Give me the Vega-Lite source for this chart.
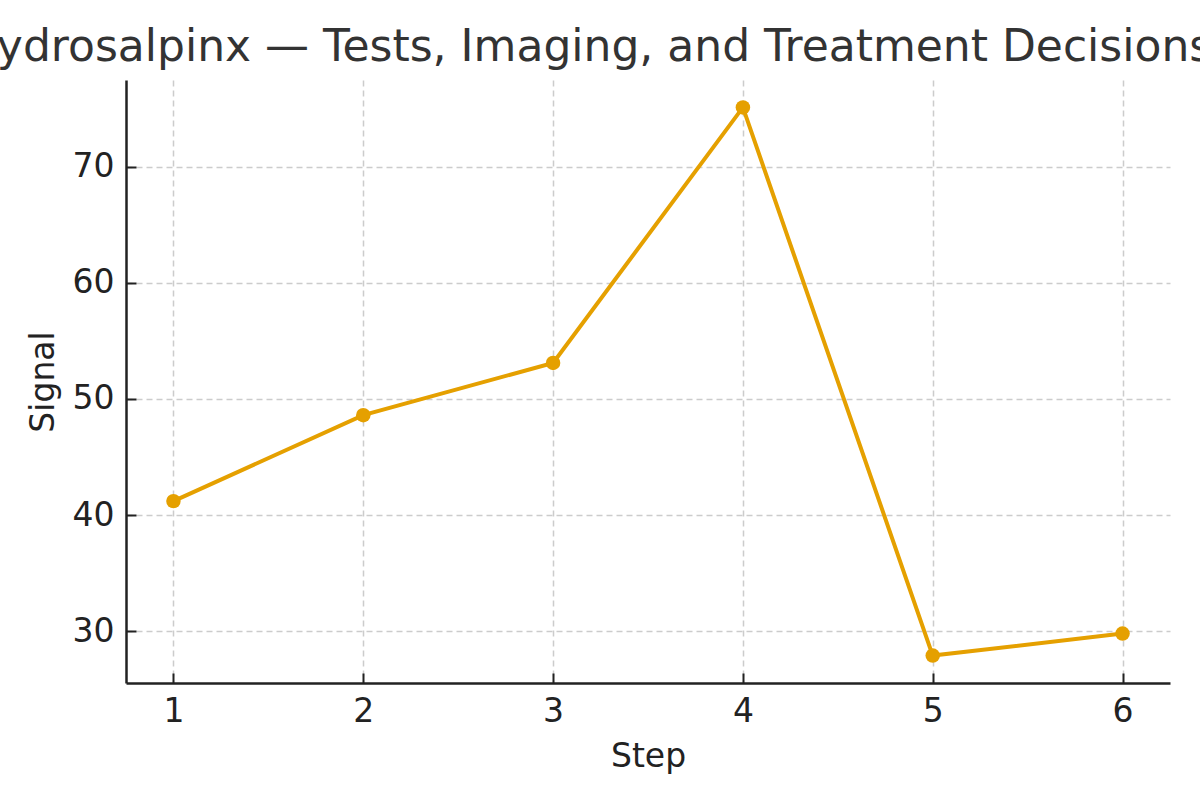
{
  "$schema": "https://vega.github.io/schema/vega-lite/v6.json",
  "width": 1044,
  "height": 603,
  "autosize": {"type": "none"},
  "padding": {"left": 126, "top": 80, "right": 30, "bottom": 117},
  "background": "white",
  "title": {
    "text": "Hydrosalpinx — Tests, Imaging, and Treatment Decisions",
    "font": "DejaVu Sans",
    "fontSize": 44,
    "fontWeight": "normal",
    "color": "#333333",
    "anchor": "middle",
    "baseline": "alphabetic",
    "offset": 15,
    "dx": -60,
    "dy": 40
  },
  "config": {
    "view": {"stroke": null},
    "font": "DejaVu Sans",
    "axis": {
      "domainColor": "#222222",
      "domainWidth": 2.5,
      "tickColor": "#222222",
      "tickWidth": 2,
      "tickSize": -10,
      "labelPadding": 22,
      "labelFont": "DejaVu Sans",
      "labelFontSize": 33,
      "labelColor": "#222222",
      "titleFont": "DejaVu Sans",
      "titleFontSize": 33,
      "titleFontWeight": "normal",
      "titleColor": "#222222",
      "grid": true,
      "gridColor": "#cccccc",
      "gridWidth": 1.5,
      "gridDash": [6, 4]
    }
  },
  "data": {
    "values": [
      {"step": 1, "signal": 41.2},
      {"step": 2, "signal": 48.6},
      {"step": 3, "signal": 53.1},
      {"step": 4, "signal": 75.1},
      {"step": 5, "signal": 27.9},
      {"step": 6, "signal": 29.8}
    ]
  },
  "encoding": {
    "x": {
      "field": "step",
      "type": "quantitative",
      "title": "Step",
      "scale": {"domain": [0.75, 6.25], "nice": false, "zero": false},
      "axis": {"values": [1, 2, 3, 4, 5, 6], "format": "d", "titlePadding": 12}
    },
    "y": {
      "field": "signal",
      "type": "quantitative",
      "title": "Signal",
      "scale": {"domain": [25.54, 77.46], "nice": false, "zero": false},
      "axis": {"values": [30, 40, 50, 60, 70], "format": "d", "titlePadding": 12}
    }
  },
  "layer": [
    {"mark": {"type": "line", "color": "#E5A000", "strokeWidth": 4}},
    {"mark": {"type": "point", "filled": true, "opacity": 1, "color": "#E5A000", "size": 210}}
  ]
}
